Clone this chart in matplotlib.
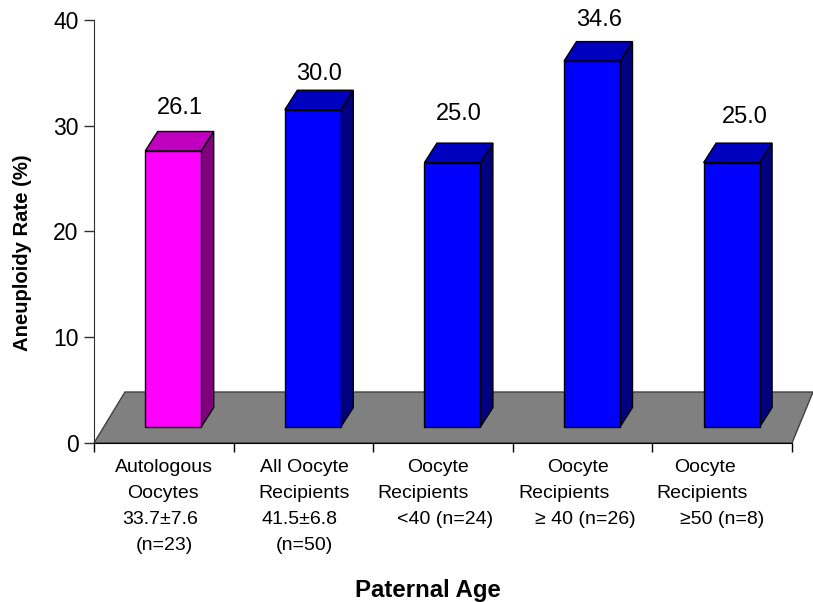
import matplotlib
matplotlib.use("Agg")
import matplotlib.pyplot as plt
from matplotlib.patches import Polygon

plt.rcParams["font.family"] = ["Liberation Sans", "DejaVu Sans"]

# data
category_lines = [
    ["Autologous", "Oocytes", "33.7±7.6", "(n=23)"],
    ["All Oocyte", "Recipients", "41.5±6.8", "(n=50)"],
    ["Oocyte", "Recipients", "<40 (n=24)"],
    ["Oocyte", "Recipients", "≥ 40 (n=26)"],
    ["Oocyte", "Recipients", "≥50 (n=8)"],
]
rates = [26.1, 30.0, 25.0, 34.6, 25.0]
y_ticks = [0, 10, 20, 30, 40]
y_label = "Aneuploidy Rate (%)"
x_label = "Paternal Age"

# ==============
# style, pixels of the 813x602 picture
# ==============
W, H = 813, 602
LEFT, RIGHT, TOP, BOTTOM = 94, 792, 20, 443
px_x = (RIGHT - LEFT) / 5
px_y = (BOTTOM - TOP) / 40
shift_x = 9.4 / px_x
base = 16 / px_y
depth_x = 12.5 / px_x
depth_y = 19.5 / px_y
bar_w = 56 / px_x

front_colors = ["#ff00ff", "#0000ff", "#0000ff", "#0000ff", "#0000ff"]
top_colors = ["#bf00bf", "#0000bf", "#0000bf", "#0000bf", "#0000bf"]
side_colors = ["#800080", "#000080", "#000080", "#000080", "#000080"]

# centre x of every line under the axis, and y of the lines
line_x = [
    [163.5, 163, 160, 164],
    [304, 304, 299, 304],
    [437.5, 423, 445],
    [578, 564, 585],
    [705, 702, 722],
]
line_y = [467, 493, 519, 545]

# centre of the value labels
value_pos = [(179.5, 108), (319, 74), (459, 114), (599, 20), (745, 117)]


def main():
    fig = plt.figure(figsize=(W / 100, H / 100), dpi=100)
    ax = fig.add_axes([LEFT / W, 1 - BOTTOM / H, (RIGHT - LEFT) / W, (BOTTOM - TOP) / H])
    ax.set_xlim(0, 5)
    ax.set_ylim(0, 40)

    # floor
    floor = Polygon(
        [(0, 0), (5, 0), (5 + 21 / px_x, 51 / px_y), (31 / px_x, 51 / px_y)],
        closed=True, facecolor="#808080", edgecolor="#404040", linewidth=1.0,
        clip_on=False, zorder=1,
    )
    ax.add_patch(floor)

    # bars
    centers = [i + 0.5 + shift_x for i in range(len(rates))]
    ax.bar(centers, rates, width=bar_w, bottom=base, color=front_colors,
           edgecolor="black", linewidth=1.0, zorder=4, clip_on=False)
    for c, v, tc, sc in zip(centers, rates, top_colors, side_colors):
        l = c - bar_w / 2
        r = c + bar_w / 2
        t = base + v
        ax.add_patch(Polygon(
            [(r, base), (r + depth_x, base + depth_y), (r + depth_x, t + depth_y), (r, t)],
            closed=True, facecolor=sc, edgecolor="black", linewidth=1.0, zorder=3, clip_on=False))
        ax.add_patch(Polygon(
            [(l, t), (l + depth_x, t + depth_y), (r + depth_x, t + depth_y), (r, t)],
            closed=True, facecolor=tc, edgecolor="black", linewidth=1.0, zorder=3, clip_on=False))

    # axes
    ax.spines["top"].set_visible(False)
    ax.spines["right"].set_visible(False)
    ax.spines["left"].set_color("#303030")
    ax.spines["bottom"].set_color("black")
    ax.spines["bottom"].set_zorder(5)
    ax.set_yticks(y_ticks)
    ax.set_xticks(range(6))
    ax.set_xticklabels([])
    ax.tick_params(axis="y", length=7, width=1, labelsize=16.5, pad=4, color="#303030")
    ax.tick_params(axis="x", length=6.5, width=1)

    # value labels
    for v, (x, y) in zip(rates, value_pos):
        fig.text(x / W, 1 - y / H, f"{v:.1f}", ha="center", va="center", fontsize=17)

    # category labels
    for lines, xs in zip(category_lines, line_x):
        for k, (s, x) in enumerate(zip(lines, xs)):
            fig.text(x / W, 1 - line_y[k] / H, s, ha="center", va="center", fontsize=14)

    fig.text(428 / W, 1 - 590 / H, x_label, ha="center", va="center", fontsize=17.3, fontweight="bold")
    fig.text(23 / W, 1 - 253 / H, y_label, ha="center", va="center", rotation=90,
             fontsize=14.6, fontweight="bold")

    fig.savefig("out.png", dpi=100)
    plt.close(fig)


if __name__ == "__main__":
    main()
